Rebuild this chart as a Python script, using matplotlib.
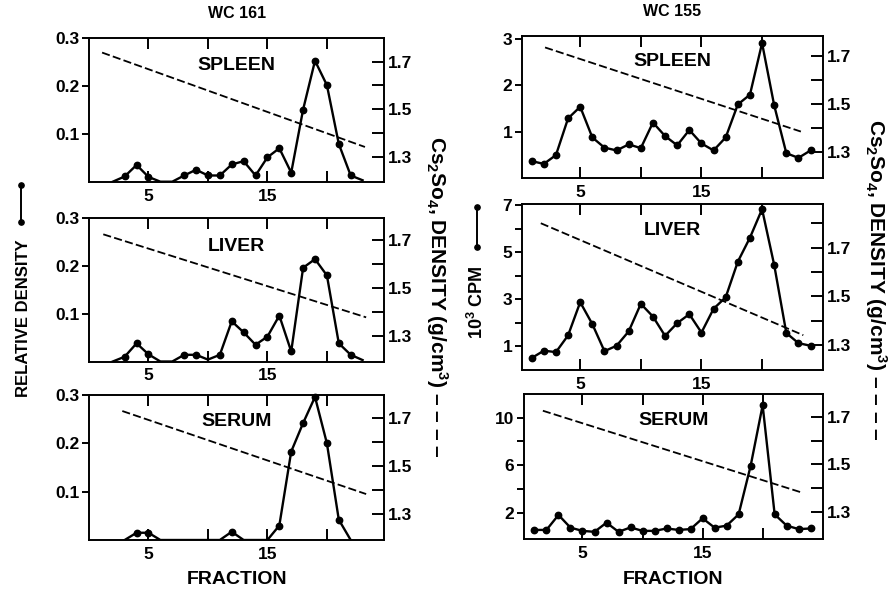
"""Cs2SO4 gradient profiles, WC 161 vs WC 155 (spleen / liver / serum)."""
import matplotlib
matplotlib.use("Agg")
import matplotlib.pyplot as plt
from matplotlib.lines import Line2D
import numpy as np

plt.rcParams.update({
    "font.family": ["Liberation Sans", "DejaVu Sans"],
    "font.weight": "bold",
    "mathtext.fontset": "custom",
    "mathtext.rm": "Liberation Sans:bold",
    "mathtext.it": "Liberation Sans:bold",
    "mathtext.bf": "Liberation Sans:bold",
    "axes.linewidth": 1.2,
})

# ---- data: WC 161 (relative density) ----
frac_spleen_161 = np.arange(2, 24)
spleen_161 = np.array([0, 0.011, 0.035, 0.010, 0, 0, 0.013, 0.025, 0.013, 0.013, 0.036,
                       0.043, 0.013, 0.051, 0.070, 0.019, 0.151, 0.253, 0.202, 0.079, 0.013, 0.003])
frac_liver_161 = np.arange(2, 24)
liver_161 = np.array([0, 0.010, 0.038, 0.015, 0, 0, 0.014, 0.014, 0.004, 0.014, 0.084,
                      0.061, 0.035, 0.052, 0.096, 0.021, 0.196, 0.214, 0.180, 0.038, 0.014, 0.003])
frac_serum_161 = np.arange(3, 23)
serum_161 = np.array([0, 0.015, 0.015, 0, 0, 0, 0, 0, 0, 0.017,
                      0, 0, 0, 0.030, 0.183, 0.242, 0.296, 0.200, 0.042, 0])

# ---- data: WC 155 (10^3 CPM) ----
frac_155 = np.arange(1, 25)
spleen_155 = np.array([0.37, 0.31, 0.50, 1.29, 1.54, 0.88, 0.66, 0.60, 0.73, 0.65, 1.20, 0.91,
                       0.71, 1.04, 0.75, 0.60, 0.88, 1.59, 1.80, 2.91, 1.57, 0.54, 0.44, 0.60])
liver_155 = np.array([0.51, 0.82, 0.76, 1.47, 2.88, 1.95, 0.80, 1.03, 1.64, 2.81, 2.27, 1.45,
                      1.99, 2.37, 1.59, 2.60, 3.09, 4.60, 5.62, 6.83, 4.46, 1.57, 1.14, 1.03])
serum_155 = np.array([0.55, 0.55, 1.81, 0.74, 0.47, 0.39, 1.16, 0.39, 0.76, 0.47, 0.47, 0.67,
                      0.55, 0.62, 1.53, 0.74, 0.91, 1.86, 5.95, 11.05, 1.86, 0.91, 0.62, 0.67])

# ---- Cs2SO4 density gradient (dashed), end points per panel ----
grad_x_spleen_161, grad_y_spleen_161 = [1.1, 23.2], [1.738, 1.341]
grad_x_liver_161, grad_y_liver_161 = [1.2, 23.3], [1.724, 1.378]
grad_x_serum_161, grad_y_serum_161 = [2.8, 23.3], [1.730, 1.383]
grad_x_spleen_155, grad_y_spleen_155 = [2.1, 23.2], [1.736, 1.385]
grad_x_liver_155, grad_y_liver_155 = [1.75, 23.4], [1.800, 1.340]
grad_x_serum_155, grad_y_serum_155 = [1.7, 23.3], [1.725, 1.382]

W, H = 888, 590
fig = plt.figure(figsize=(W / 100, H / 100), dpi=100)


def box(l, t, r, b):
    return [l / W, 1 - b / H, (r - l) / W, (b - t) / H]


def panel(pos, frac, vals, ylim, yticks, yminor, gx, gy, dlim, dminor, name, name_y, xlim, mark_min):
    ax = fig.add_axes(box(*pos))
    ax.plot(frac, vals, color="k", lw=1.7, zorder=3)
    m = vals > mark_min
    ax.plot(frac[m], vals[m], "o", color="k", ms=4.6, clip_on=False, zorder=4)
    ax.set_xlim(xlim)
    ax.set_ylim(ylim)
    ax.set_xticks([5, 10, 15, 20])
    ax.set_xticklabels(["5", "", "15", ""])
    ax.tick_params(axis="x", direction="in", top=True, bottom=True, length=8, width=1.4,
                   labelsize=12.5, pad=5)
    ax.set_yticks(yticks)
    ax.set_yticks(yminor, minor=True)
    ax.tick_params(axis="y", which="both", direction="out", length=5, width=1.4,
                   labelsize=12.5, pad=2)
    ax2 = ax.twinx()
    ax2.plot(gx, gy, color="k", lw=1.3, dashes=(4.5, 1.8))
    ax2.set_ylim(dlim)
    ax2.set_yticks([1.3, 1.5, 1.7])
    ax2.set_yticks(dminor, minor=True)
    ax2.tick_params(axis="y", which="both", direction="in", length=8.5, width=1.4,
                    labelsize=12.5, pad=3)
    ax.text(0.5, name_y, name, transform=ax.transAxes, ha="center", va="center", fontsize=14)
    return ax


# left column: WC 161
panel((89, 38.3, 384, 181.7), frac_spleen_161, spleen_161, (0, 0.3), [0.1, 0.2, 0.3], [],
      grad_x_spleen_161, grad_y_spleen_161, (1.195, 1.798), [1.4, 1.6], "SPLEEN", 0.81, (0, 24.8), 0.005)
panel((89, 218, 384, 361.5), frac_liver_161, liver_161, (0, 0.3), [0.1, 0.2, 0.3], [],
      grad_x_liver_161, grad_y_liver_161, (1.194, 1.792), [1.4, 1.6], "LIVER", 0.80, (0, 24.8), 0.005)
panel((89, 395, 384, 540), frac_serum_161, serum_161, (0, 0.3), [0.1, 0.2, 0.3], [],
      grad_x_serum_161, grad_y_serum_161, (1.191, 1.797), [1.4, 1.6], "SERUM", 0.815, (0, 24.8), 0.005)

# right column: WC 155
panel((522, 35.7, 822.7, 178.3), frac_155, spleen_155, (0, 3.07), [1, 2, 3], [],
      grad_x_spleen_155, grad_y_spleen_155, (1.19, 1.785), [1.4, 1.6], "SPLEEN", 0.82, (0.2, 25.0), 0)
panel((522, 204, 822.7, 370), frac_155, liver_155, (0, 7.05), [1, 3, 5, 7], [2, 4, 6],
      grad_x_liver_155, grad_y_liver_155, (1.197, 1.879), [1.4, 1.6, 1.8], "LIVER", 0.84, (0.2, 25.0), 0)
panel((524, 394, 822.7, 539.3), frac_155, serum_155, (-0.24, 12.0), [2, 6, 10], [4, 8],
      grad_x_serum_155, grad_y_serum_155, (1.187, 1.795), [1.4, 1.6], "SERUM", 0.82, (0.13, 25.0), 0)

# titles and axis labels
fig.text(237 / W, 1 - 14 / H, "WC 161", ha="center", va="center", fontsize=11.5)
fig.text(672 / W, 1 - 11 / H, "WC 155", ha="center", va="center", fontsize=11.5)
fig.text(237 / W, 1 - 579 / H, "FRACTION", ha="center", va="center", fontsize=14)
fig.text(673 / W, 1 - 579 / H, "FRACTION", ha="center", va="center", fontsize=14)

fig.text(24 / W, 1 - 318 / H, "RELATIVE DENSITY", rotation=90, ha="center", va="center", fontsize=12)
fig.text(477 / W, 1 - 302 / H, "10$^3$ CPM", rotation=90, ha="center", va="center", fontsize=13)
fig.text(437 / W, 1 - 297 / H, "Cs$_2$So$_4$, DENSITY (g/cm$^3$) – – – –", rotation=270,
         ha="center", va="center", fontsize=15)
fig.text(876 / W, 1 - 280 / H, "Cs$_2$So$_4$, DENSITY (g/cm$^3$) – – – –", rotation=270,
         ha="center", va="center", fontsize=15)

# small line-with-dots keys next to the left labels
for x, y0, y1 in [(21, 185, 222), (477, 207, 247)]:
    fig.add_artist(Line2D([x / W, x / W], [1 - y0 / H, 1 - y1 / H], color="k", lw=1.4,
                          marker="o", ms=3.8, transform=fig.transFigure))

fig.savefig("out.png", dpi=100)
